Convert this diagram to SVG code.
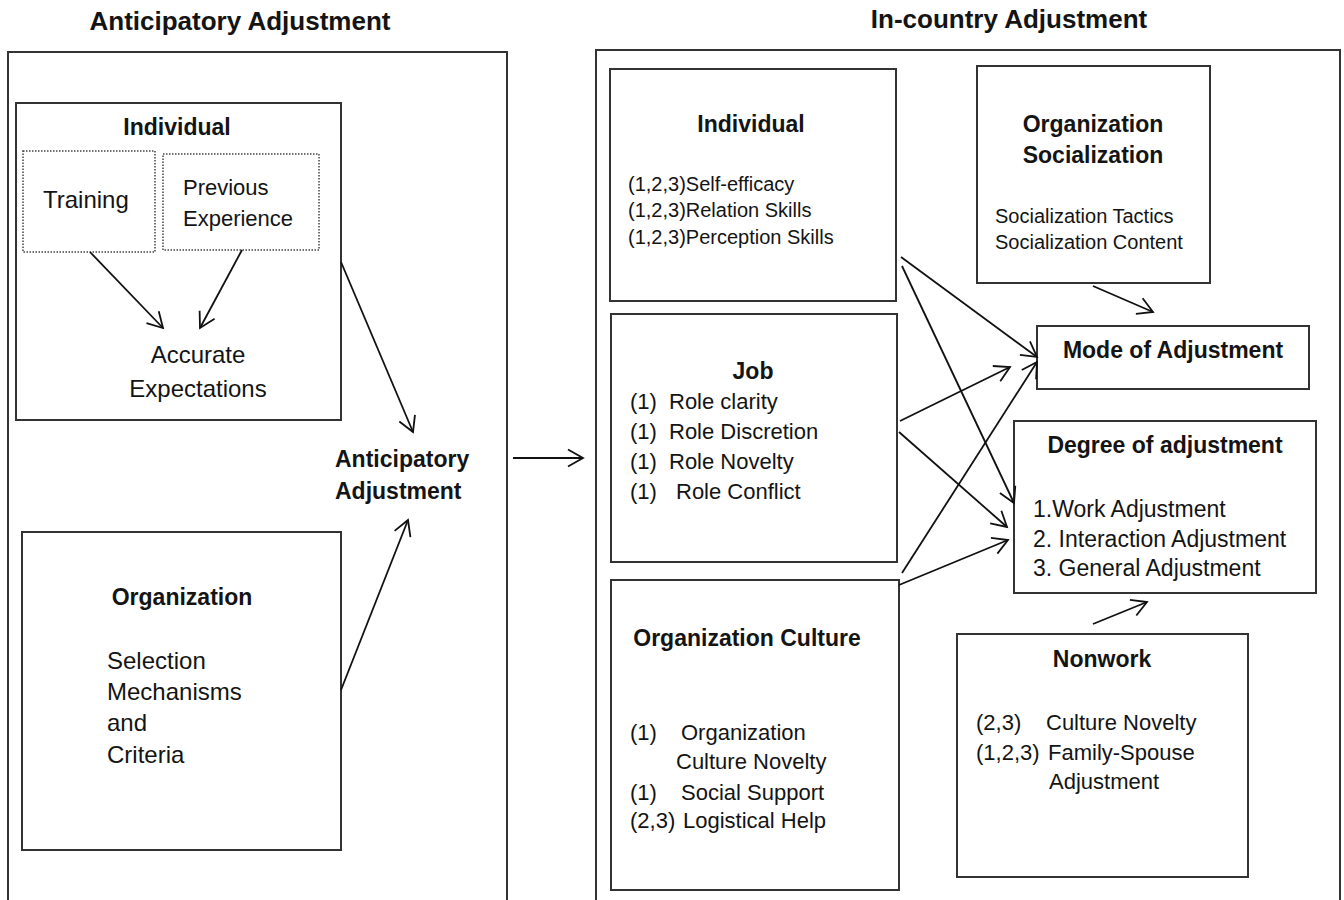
<svg xmlns="http://www.w3.org/2000/svg" width="1344" height="900" viewBox="0 0 1344 900">
  <style>
    text { font-family: "Liberation Sans", Arial, sans-serif; fill: #141414; }
    .title { font-size: 26px; font-weight: bold; text-anchor: middle; }
    .head { font-size: 23px; font-weight: bold; }
    .mid { text-anchor: middle; }
    .t24 { font-size: 24px; }
    .t23 { font-size: 23px; }
    .t22 { font-size: 22px; }
    .t20 { font-size: 20px; }
    .box { fill: #fff; stroke: #333; stroke-width: 2; }
    .dot { fill: none; stroke: #444; stroke-width: 1.5; stroke-dasharray: 1.5 1.5; }
    .edge { fill: none; stroke: #111; stroke-width: 1.8; marker-end: url(#ah); }
  </style>
  <defs>
    <marker id="ah" markerUnits="userSpaceOnUse" markerWidth="24" markerHeight="24" viewBox="-18 -12 24 24" refX="0" refY="0" orient="auto" overflow="visible">
      <path d="M-15,-8.5 L0,0 L-15,8.5" fill="none" stroke="#111" stroke-width="1.8" stroke-linejoin="miter"/>
    </marker>
  </defs>

  <rect width="1344" height="900" fill="#fff"/>

  <!-- panel titles -->
  <text class="title" x="240" y="30">Anticipatory Adjustment</text>
  <text class="title" x="1009" y="28">In-country Adjustment</text>

  <!-- panel frames -->
  <g id="panel-anticipatory">
    <rect class="box" x="8" y="52" width="499" height="870"/>
  </g>
  <g id="panel-in-country">
    <rect class="box" x="596" y="50" width="744" height="870"/>
  </g>

  <!-- anticipatory side -->
  <g id="individual-pre">
    <rect class="box" x="16" y="103" width="325" height="317"/>
    <text class="head mid" x="177" y="135">Individual</text>
  </g>
  <g id="training">
    <rect class="dot" x="23" y="151" width="132" height="101"/>
    <text class="t24" x="43" y="208">Training</text>
  </g>
  <g id="previous-experience">
    <rect class="dot" x="163" y="154" width="156" height="96"/>
    <text class="t22" x="183" y="195">Previous</text>
    <text class="t22" x="183" y="226">Experience</text>
  </g>
  <g id="accurate-expectations">
    <text class="t24 mid" x="198" y="363">Accurate</text>
    <text class="t24 mid" x="198" y="397">Expectations</text>
  </g>
  <g id="organization-pre">
    <rect class="box" x="22" y="532" width="319" height="318"/>
    <text class="head mid" x="182" y="605">Organization</text>
    <text class="t24" x="107" y="669">Selection</text>
    <text class="t24" x="107" y="700">Mechanisms</text>
    <text class="t24" x="107" y="731">and</text>
    <text class="t24" x="107" y="763">Criteria</text>
  </g>
  <g id="anticipatory-adjustment">
    <text class="head" x="335" y="467">Anticipatory</text>
    <text class="head" x="335" y="499">Adjustment</text>
  </g>

  <!-- in-country side -->
  <g id="individual">
    <rect class="box" x="610" y="69" width="286" height="232"/>
    <text class="head mid" x="751" y="132">Individual</text>
    <text class="t20" x="628" y="191">(1,2,3)Self-efficacy</text>
    <text class="t20" x="628" y="217">(1,2,3)Relation Skills</text>
    <text class="t20" x="628" y="244">(1,2,3)Perception Skills</text>
  </g>
  <g id="job">
    <rect class="box" x="611" y="314" width="286" height="248"/>
    <text class="head mid" x="753" y="379">Job</text>
    <text class="t22" x="630" y="409">(1)</text><text class="t22" x="669" y="409">Role clarity</text>
    <text class="t22" x="630" y="439">(1)</text><text class="t22" x="669" y="439">Role Discretion</text>
    <text class="t22" x="630" y="469">(1)</text><text class="t22" x="669" y="469">Role Novelty</text>
    <text class="t22" x="630" y="499">(1)</text><text class="t22" x="676" y="499">Role Conflict</text>
  </g>
  <g id="organization-culture">
    <rect class="box" x="611" y="580" width="288" height="310"/>
    <text class="head mid" x="747" y="646">Organization Culture</text>
    <text class="t22" x="630" y="740">(1)</text><text class="t22" x="681" y="740">Organization</text>
    <text class="t22" x="676" y="769">Culture Novelty</text>
    <text class="t22" x="630" y="800">(1)</text><text class="t22" x="681" y="800">Social Support</text>
    <text class="t22" x="630" y="828">(2,3)</text><text class="t22" x="683" y="828">Logistical Help</text>
  </g>
  <g id="organization-socialization">
    <rect class="box" x="977" y="66" width="233" height="217"/>
    <text class="head mid" x="1093" y="132">Organization</text>
    <text class="head mid" x="1093" y="163">Socialization</text>
    <text class="t20" x="995" y="223">Socialization Tactics</text>
    <text class="t20" x="995" y="249">Socialization Content</text>
  </g>
  <g id="mode-of-adjustment">
    <rect class="box" x="1037" y="326" width="272" height="63"/>
    <text class="head mid" x="1173" y="358">Mode of Adjustment</text>
  </g>
  <g id="degree-of-adjustment">
    <rect class="box" x="1014" y="421" width="302" height="172"/>
    <text class="head mid" x="1165" y="453">Degree of adjustment</text>
    <text class="t23" x="1033" y="517">1.Work Adjustment</text>
    <text class="t23" x="1033" y="547">2. Interaction Adjustment</text>
    <text class="t23" x="1033" y="576">3. General Adjustment</text>
  </g>
  <g id="nonwork">
    <rect class="box" x="957" y="634" width="291" height="243"/>
    <text class="head mid" x="1102" y="667">Nonwork</text>
    <text class="t22" x="976" y="730">(2,3)</text><text class="t22" x="1046" y="730">Culture Novelty</text>
    <text class="t22" x="976" y="760">(1,2,3)</text><text class="t22" x="1048" y="760">Family-Spouse</text>
    <text class="t22" x="1049" y="789">Adjustment</text>
  </g>

  <!-- connectors -->
  <g id="connectors">
    <line class="edge" x1="90" y1="252" x2="163" y2="328"/>
    <line class="edge" x1="242" y1="250" x2="200" y2="328"/>
    <line class="edge" x1="341" y1="262" x2="413" y2="432"/>
    <line class="edge" x1="341" y1="690" x2="408" y2="520"/>
    <line class="edge" x1="513" y1="458" x2="583" y2="458"/>
    <line class="edge" x1="901" y1="257" x2="1037" y2="357"/>
    <line class="edge" x1="902" y1="266" x2="1014" y2="503"/>
    <line class="edge" x1="900" y1="421" x2="1010" y2="367"/>
    <line class="edge" x1="899" y1="432" x2="1007" y2="527"/>
    <line class="edge" x1="902" y1="573" x2="1037" y2="362"/>
    <line class="edge" x1="899" y1="585" x2="1008" y2="540"/>
    <line class="edge" x1="1093" y1="286" x2="1153" y2="312"/>
    <line class="edge" x1="1093" y1="624" x2="1147" y2="602"/>
  </g>
</svg>
